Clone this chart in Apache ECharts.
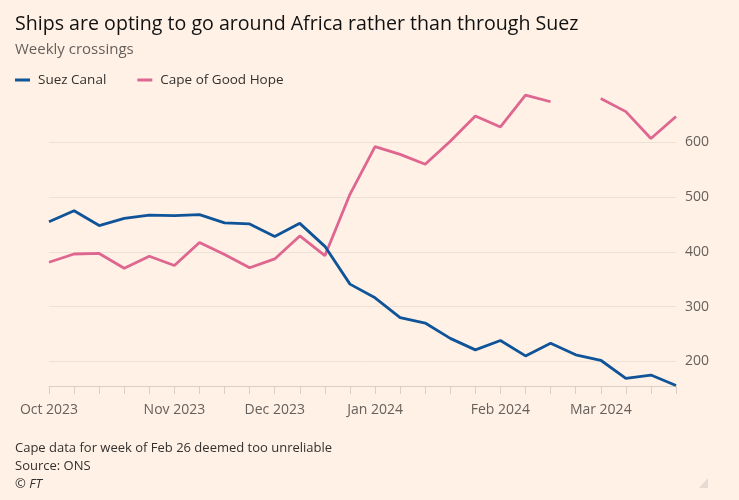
<!DOCTYPE html>
<html><head><meta charset="utf-8">
<script src="https://cdn.jsdelivr.net/npm/echarts@6/dist/echarts.min.js"></script>
<style>html,body{margin:0;padding:0;background:#FFF1E5;}#c{width:739px;height:500px;}</style>
</head><body><div id="c"></div>
<script>
const weeks = ['2023-10-02','2023-10-09','2023-10-16','2023-10-23','2023-10-30','2023-11-06','2023-11-13','2023-11-20','2023-11-27','2023-12-04','2023-12-11','2023-12-18','2023-12-25','2024-01-01','2024-01-08','2024-01-15','2024-01-22','2024-01-29','2024-02-05','2024-02-12','2024-02-19','2024-02-26','2024-03-04','2024-03-11','2024-03-18','2024-03-25'];
const suez = [455,475,448,461,467,466,468,453,451,428,452,410,341,316,280,270,242,221,238,210,233,212,202,169,175,156];
const cape = [381,396,397,370,392,375,417,395,371,387,429,393,505,592,578,560,602,648,628,686,674,null,680,656,607,647];
const labelWeeks = ['2023-10-02','2023-11-06','2023-12-04','2024-01-01','2024-02-05','2024-03-04'];
const labelTexts = ['Oct 2023','Nov 2023','Dec 2023','Jan 2024','Feb 2024','Mar 2024'];
const yTicks = [200,300,400,500,600];

const font = 'Open Sans';
const chart = echarts.init(document.getElementById('c'), null, {renderer:'canvas'});
chart.setOption({
  backgroundColor:'#FFF1E5',
  animation:false,
  textStyle:{fontFamily:font},
  title:[
    {text:'Ships are opting to go around Africa rather than through Suez', left:10, top:9,
     textStyle:{fontFamily:font,fontSize:19.6,fontWeight:'normal',color:'#111'}},
    {text:'Weekly crossings', left:10, top:37, textStyle:{fontFamily:font,fontSize:15,fontWeight:'normal',color:'#66605c'}},
    {text:'Cape data for week of Feb 26 deemed too unreliable\nSource: ONS', left:10, top:434,
     textStyle:{fontFamily:font,fontSize:13,fontWeight:'normal',color:'#33302e',lineHeight:18}},
    {text:'© FT', left:10, top:473, textStyle:{fontFamily:font,fontSize:13,fontWeight:'normal',fontStyle:'italic',color:'#33302e'}}
  ],
  legend:{left:10, top:68, itemGap:31, itemWidth:15, itemHeight:3, icon:'rect',
    textStyle:{fontFamily:font,fontSize:13.5,color:'#33302e',padding:[0,0,0,3]},
    data:['Suez Canal','Cape of Good Hope']},
  grid:{left:49, right:63, top:93, bottom:114, containLabel:false},
  xAxis:{type:'category', data:weeks, boundaryGap:false,
    axisLine:{show:true,lineStyle:{color:'#d9cfc6',width:1}},
    axisTick:{show:true, interval:0, length:8, lineStyle:{color:'#d9cfc6'}},
    axisLabel:{interval:(i,v)=>labelWeeks.indexOf(v)>=0, formatter:v=>{const k=labelWeeks.indexOf(v);return k>=0?labelTexts[k]:'';},
      color:'#66605c', fontSize:14, fontFamily:font, margin:17},
    splitLine:{show:false}},
  yAxis:{type:'value', position:'right', min:155, max:690,
    axisLine:{show:false}, axisTick:{show:false, customValues:yTicks},
    axisLabel:{customValues:yTicks, color:'#66605c', fontSize:14, fontFamily:font, margin:9},
    splitLine:{show:true, lineStyle:{color:'#ede1d6',width:1}}},
  series:[
    {name:'Suez Canal', type:'line', data:suez, symbol:'none', lineStyle:{color:'#0f5499',width:2.8}, itemStyle:{color:'#0f5499'}, z:3},
    {name:'Cape of Good Hope', type:'line', data:cape, symbol:'none', connectNulls:false, lineStyle:{color:'#df6690',width:2.8}, itemStyle:{color:'#df6690'}, z:2}
  ],
  graphic:[{type:'polygon', shape:{points:[[708,478],[708,488],[699,488]]}, style:{fill:'#e6dbd2'}}]
});
</script></body></html>
